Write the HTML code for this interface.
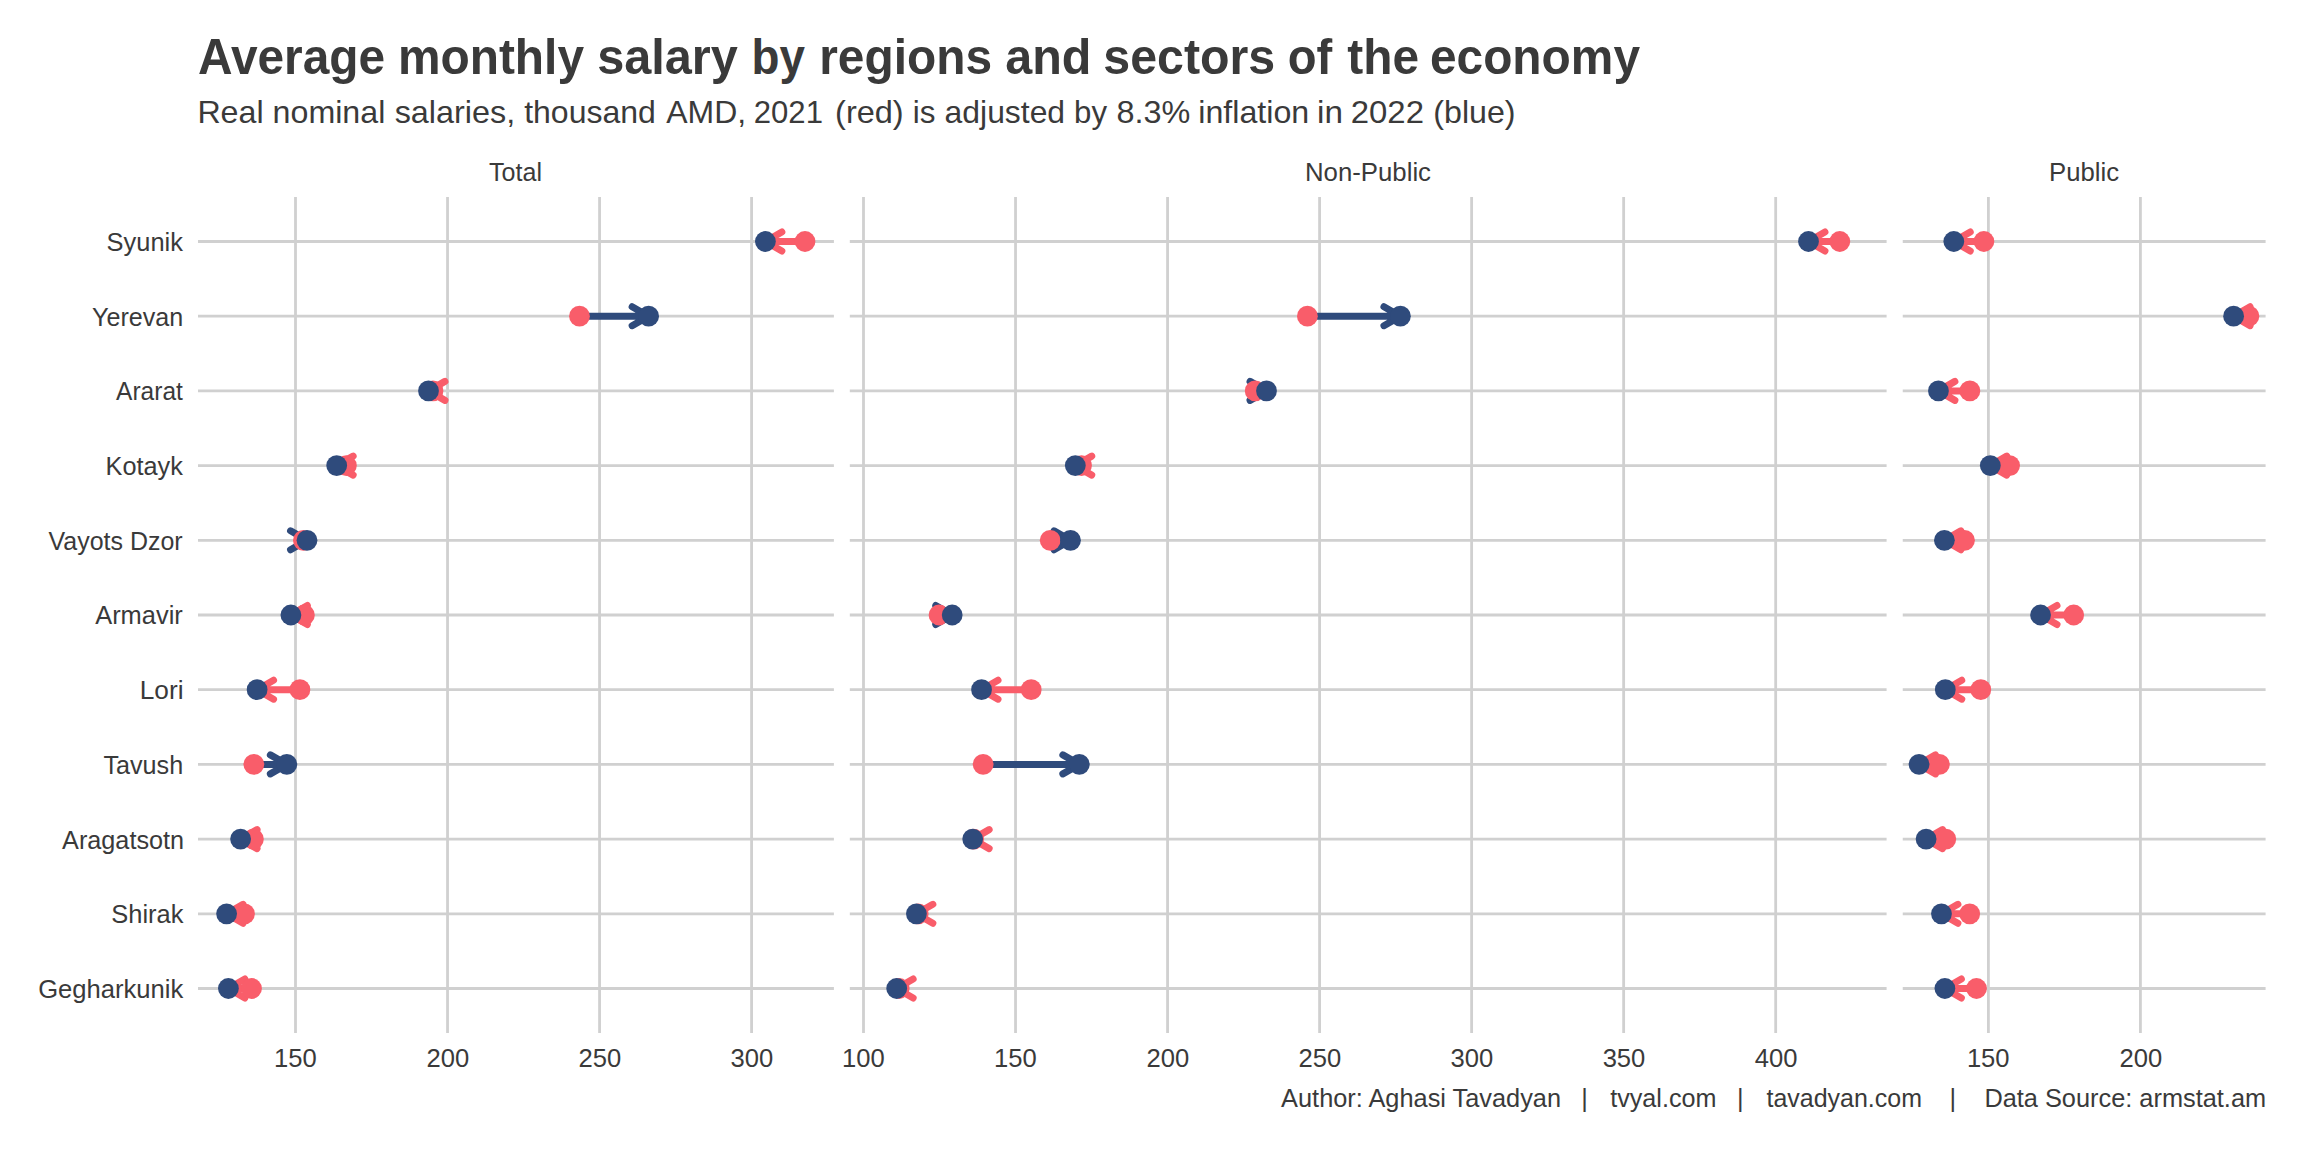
<!DOCTYPE html>
<html><head><meta charset="utf-8"><title>Average monthly salary by regions and sectors of the economy</title>
<style>html,body{margin:0;padding:0;background:#fff;width:2304px;height:1152px;overflow:hidden}body{position:relative;font-family:"Liberation Sans",sans-serif}</style>
</head><body>
<svg width="2304" height="1152" viewBox="0 0 2304 1152" style="position:absolute;left:0;top:0">
<rect width="2304" height="1152" fill="#ffffff"/>
<path d="M198.00 241.50H833.90M198.00 316.20H833.90M198.00 390.90H833.90M198.00 465.60H833.90M198.00 540.30H833.90M198.00 615.00H833.90M198.00 689.70H833.90M198.00 764.40H833.90M198.00 839.10H833.90M198.00 913.80H833.90M198.00 988.50H833.90M295.50 197.00V1033.00M447.53 197.00V1033.00M599.56 197.00V1033.00M751.59 197.00V1033.00M849.80 241.50H1886.60M849.80 316.20H1886.60M849.80 390.90H1886.60M849.80 465.60H1886.60M849.80 540.30H1886.60M849.80 615.00H1886.60M849.80 689.70H1886.60M849.80 764.40H1886.60M849.80 839.10H1886.60M849.80 913.80H1886.60M849.80 988.50H1886.60M863.50 197.00V1033.00M1015.53 197.00V1033.00M1167.56 197.00V1033.00M1319.59 197.00V1033.00M1471.62 197.00V1033.00M1623.65 197.00V1033.00M1775.68 197.00V1033.00M1902.75 241.50H2265.60M1902.75 316.20H2265.60M1902.75 390.90H2265.60M1902.75 465.60H2265.60M1902.75 540.30H2265.60M1902.75 615.00H2265.60M1902.75 689.70H2265.60M1902.75 764.40H2265.60M1902.75 839.10H2265.60M1902.75 913.80H2265.60M1902.75 988.50H2265.60M1988.40 197.00V1033.00M2140.43 197.00V1033.00" stroke="#d0d0d0" stroke-width="2.8" fill="none"/>
<path d="M805.00 241.50H765.40M781.85 232.00L765.40 241.50L781.85 251.00" stroke="#f95d6a" stroke-width="7.0" stroke-linecap="round" stroke-linejoin="round" fill="none"/>
<path d="M579.50 316.20H648.60M632.15 306.70L648.60 316.20L632.15 325.70" stroke="#2f4b7c" stroke-width="7.0" stroke-linecap="round" stroke-linejoin="round" fill="none"/>
<path d="M433.00 390.90H428.50M444.95 381.40L428.50 390.90L444.95 400.40" stroke="#f95d6a" stroke-width="7.0" stroke-linecap="round" stroke-linejoin="round" fill="none"/>
<path d="M346.40 465.60H336.70M353.15 456.10L336.70 465.60L353.15 475.10" stroke="#f95d6a" stroke-width="7.0" stroke-linecap="round" stroke-linejoin="round" fill="none"/>
<path d="M303.40 540.30H307.00M290.55 530.80L307.00 540.30L290.55 549.80" stroke="#2f4b7c" stroke-width="7.0" stroke-linecap="round" stroke-linejoin="round" fill="none"/>
<path d="M304.40 615.00H290.90M307.35 605.50L290.90 615.00L307.35 624.50" stroke="#f95d6a" stroke-width="7.0" stroke-linecap="round" stroke-linejoin="round" fill="none"/>
<path d="M299.90 689.70H257.10M273.55 680.20L257.10 689.70L273.55 699.20" stroke="#f95d6a" stroke-width="7.0" stroke-linecap="round" stroke-linejoin="round" fill="none"/>
<path d="M253.85 764.40H286.80M270.35 754.90L286.80 764.40L270.35 773.90" stroke="#2f4b7c" stroke-width="7.0" stroke-linecap="round" stroke-linejoin="round" fill="none"/>
<path d="M253.40 839.10H240.60M257.05 829.60L240.60 839.10L257.05 848.60" stroke="#f95d6a" stroke-width="7.0" stroke-linecap="round" stroke-linejoin="round" fill="none"/>
<path d="M244.50 913.80H226.60M243.05 904.30L226.60 913.80L243.05 923.30" stroke="#f95d6a" stroke-width="7.0" stroke-linecap="round" stroke-linejoin="round" fill="none"/>
<path d="M251.50 988.50H228.40M244.85 979.00L228.40 988.50L244.85 998.00" stroke="#f95d6a" stroke-width="7.0" stroke-linecap="round" stroke-linejoin="round" fill="none"/>
<path d="M1839.80 241.50H1808.50M1824.95 232.00L1808.50 241.50L1824.95 251.00" stroke="#f95d6a" stroke-width="7.0" stroke-linecap="round" stroke-linejoin="round" fill="none"/>
<path d="M1307.40 316.20H1400.40M1383.95 306.70L1400.40 316.20L1383.95 325.70" stroke="#2f4b7c" stroke-width="7.0" stroke-linecap="round" stroke-linejoin="round" fill="none"/>
<path d="M1255.20 390.90H1266.50M1250.05 381.40L1266.50 390.90L1250.05 400.40" stroke="#2f4b7c" stroke-width="7.0" stroke-linecap="round" stroke-linejoin="round" fill="none"/>
<path d="M1081.50 465.60H1075.30M1091.75 456.10L1075.30 465.60L1091.75 475.10" stroke="#f95d6a" stroke-width="7.0" stroke-linecap="round" stroke-linejoin="round" fill="none"/>
<path d="M1050.20 540.30H1070.50M1054.05 530.80L1070.50 540.30L1054.05 549.80" stroke="#2f4b7c" stroke-width="7.0" stroke-linecap="round" stroke-linejoin="round" fill="none"/>
<path d="M939.05 615.00H952.20M935.75 605.50L952.20 615.00L935.75 624.50" stroke="#2f4b7c" stroke-width="7.0" stroke-linecap="round" stroke-linejoin="round" fill="none"/>
<path d="M1031.20 689.70H981.55M998.00 680.20L981.55 689.70L998.00 699.20" stroke="#f95d6a" stroke-width="7.0" stroke-linecap="round" stroke-linejoin="round" fill="none"/>
<path d="M983.15 764.40H1079.30M1062.85 754.90L1079.30 764.40L1062.85 773.90" stroke="#2f4b7c" stroke-width="7.0" stroke-linecap="round" stroke-linejoin="round" fill="none"/>
<path d="M973.70 839.10H972.70M989.15 829.60L972.70 839.10L989.15 848.60" stroke="#f95d6a" stroke-width="7.0" stroke-linecap="round" stroke-linejoin="round" fill="none"/>
<path d="M918.20 913.80H916.40M932.85 904.30L916.40 913.80L932.85 923.30" stroke="#f95d6a" stroke-width="7.0" stroke-linecap="round" stroke-linejoin="round" fill="none"/>
<path d="M899.20 988.50H896.70M913.15 979.00L896.70 988.50L913.15 998.00" stroke="#f95d6a" stroke-width="7.0" stroke-linecap="round" stroke-linejoin="round" fill="none"/>
<path d="M1983.90 241.50H1953.80M1970.25 232.00L1953.80 241.50L1970.25 251.00" stroke="#f95d6a" stroke-width="7.0" stroke-linecap="round" stroke-linejoin="round" fill="none"/>
<path d="M2248.90 316.20H2233.60M2250.05 306.70L2233.60 316.20L2250.05 325.70" stroke="#f95d6a" stroke-width="7.0" stroke-linecap="round" stroke-linejoin="round" fill="none"/>
<path d="M1969.85 390.90H1938.45M1954.90 381.40L1938.45 390.90L1954.90 400.40" stroke="#f95d6a" stroke-width="7.0" stroke-linecap="round" stroke-linejoin="round" fill="none"/>
<path d="M2009.60 465.60H1990.30M2006.75 456.10L1990.30 465.60L2006.75 475.10" stroke="#f95d6a" stroke-width="7.0" stroke-linecap="round" stroke-linejoin="round" fill="none"/>
<path d="M1964.50 540.30H1944.40M1960.85 530.80L1944.40 540.30L1960.85 549.80" stroke="#f95d6a" stroke-width="7.0" stroke-linecap="round" stroke-linejoin="round" fill="none"/>
<path d="M2073.70 615.00H2040.55M2057.00 605.50L2040.55 615.00L2057.00 624.50" stroke="#f95d6a" stroke-width="7.0" stroke-linecap="round" stroke-linejoin="round" fill="none"/>
<path d="M1980.80 689.70H1945.30M1961.75 680.20L1945.30 689.70L1961.75 699.20" stroke="#f95d6a" stroke-width="7.0" stroke-linecap="round" stroke-linejoin="round" fill="none"/>
<path d="M1939.40 764.40H1919.05M1935.50 754.90L1919.05 764.40L1935.50 773.90" stroke="#f95d6a" stroke-width="7.0" stroke-linecap="round" stroke-linejoin="round" fill="none"/>
<path d="M1945.80 839.10H1926.10M1942.55 829.60L1926.10 839.10L1942.55 848.60" stroke="#f95d6a" stroke-width="7.0" stroke-linecap="round" stroke-linejoin="round" fill="none"/>
<path d="M1969.70 913.80H1941.45M1957.90 904.30L1941.45 913.80L1957.90 923.30" stroke="#f95d6a" stroke-width="7.0" stroke-linecap="round" stroke-linejoin="round" fill="none"/>
<path d="M1976.50 988.50H1944.90M1961.35 979.00L1944.90 988.50L1961.35 998.00" stroke="#f95d6a" stroke-width="7.0" stroke-linecap="round" stroke-linejoin="round" fill="none"/>
<circle cx="805.00" cy="241.50" r="10.4" fill="#f95d6a"/>
<circle cx="579.50" cy="316.20" r="10.4" fill="#f95d6a"/>
<circle cx="433.00" cy="390.90" r="10.4" fill="#f95d6a"/>
<circle cx="346.40" cy="465.60" r="10.4" fill="#f95d6a"/>
<circle cx="303.40" cy="540.30" r="10.4" fill="#f95d6a"/>
<circle cx="304.40" cy="615.00" r="10.4" fill="#f95d6a"/>
<circle cx="299.90" cy="689.70" r="10.4" fill="#f95d6a"/>
<circle cx="253.85" cy="764.40" r="10.4" fill="#f95d6a"/>
<circle cx="253.40" cy="839.10" r="10.4" fill="#f95d6a"/>
<circle cx="244.50" cy="913.80" r="10.4" fill="#f95d6a"/>
<circle cx="251.50" cy="988.50" r="10.4" fill="#f95d6a"/>
<circle cx="1839.80" cy="241.50" r="10.4" fill="#f95d6a"/>
<circle cx="1307.40" cy="316.20" r="10.4" fill="#f95d6a"/>
<circle cx="1255.20" cy="390.90" r="10.4" fill="#f95d6a"/>
<circle cx="1081.50" cy="465.60" r="10.4" fill="#f95d6a"/>
<circle cx="1050.20" cy="540.30" r="10.4" fill="#f95d6a"/>
<circle cx="939.05" cy="615.00" r="10.4" fill="#f95d6a"/>
<circle cx="1031.20" cy="689.70" r="10.4" fill="#f95d6a"/>
<circle cx="983.15" cy="764.40" r="10.4" fill="#f95d6a"/>
<circle cx="973.70" cy="839.10" r="10.4" fill="#f95d6a"/>
<circle cx="918.20" cy="913.80" r="10.4" fill="#f95d6a"/>
<circle cx="899.20" cy="988.50" r="10.4" fill="#f95d6a"/>
<circle cx="1983.90" cy="241.50" r="10.4" fill="#f95d6a"/>
<circle cx="2248.90" cy="316.20" r="10.4" fill="#f95d6a"/>
<circle cx="1969.85" cy="390.90" r="10.4" fill="#f95d6a"/>
<circle cx="2009.60" cy="465.60" r="10.4" fill="#f95d6a"/>
<circle cx="1964.50" cy="540.30" r="10.4" fill="#f95d6a"/>
<circle cx="2073.70" cy="615.00" r="10.4" fill="#f95d6a"/>
<circle cx="1980.80" cy="689.70" r="10.4" fill="#f95d6a"/>
<circle cx="1939.40" cy="764.40" r="10.4" fill="#f95d6a"/>
<circle cx="1945.80" cy="839.10" r="10.4" fill="#f95d6a"/>
<circle cx="1969.70" cy="913.80" r="10.4" fill="#f95d6a"/>
<circle cx="1976.50" cy="988.50" r="10.4" fill="#f95d6a"/>
<circle cx="765.40" cy="241.50" r="10.4" fill="#2f4b7c"/>
<circle cx="648.60" cy="316.20" r="10.4" fill="#2f4b7c"/>
<circle cx="428.50" cy="390.90" r="10.4" fill="#2f4b7c"/>
<circle cx="336.70" cy="465.60" r="10.4" fill="#2f4b7c"/>
<circle cx="307.00" cy="540.30" r="10.4" fill="#2f4b7c"/>
<circle cx="290.90" cy="615.00" r="10.4" fill="#2f4b7c"/>
<circle cx="257.10" cy="689.70" r="10.4" fill="#2f4b7c"/>
<circle cx="286.80" cy="764.40" r="10.4" fill="#2f4b7c"/>
<circle cx="240.60" cy="839.10" r="10.4" fill="#2f4b7c"/>
<circle cx="226.60" cy="913.80" r="10.4" fill="#2f4b7c"/>
<circle cx="228.40" cy="988.50" r="10.4" fill="#2f4b7c"/>
<circle cx="1808.50" cy="241.50" r="10.4" fill="#2f4b7c"/>
<circle cx="1400.40" cy="316.20" r="10.4" fill="#2f4b7c"/>
<circle cx="1266.50" cy="390.90" r="10.4" fill="#2f4b7c"/>
<circle cx="1075.30" cy="465.60" r="10.4" fill="#2f4b7c"/>
<circle cx="1070.50" cy="540.30" r="10.4" fill="#2f4b7c"/>
<circle cx="952.20" cy="615.00" r="10.4" fill="#2f4b7c"/>
<circle cx="981.55" cy="689.70" r="10.4" fill="#2f4b7c"/>
<circle cx="1079.30" cy="764.40" r="10.4" fill="#2f4b7c"/>
<circle cx="972.70" cy="839.10" r="10.4" fill="#2f4b7c"/>
<circle cx="916.40" cy="913.80" r="10.4" fill="#2f4b7c"/>
<circle cx="896.70" cy="988.50" r="10.4" fill="#2f4b7c"/>
<circle cx="1953.80" cy="241.50" r="10.4" fill="#2f4b7c"/>
<circle cx="2233.60" cy="316.20" r="10.4" fill="#2f4b7c"/>
<circle cx="1938.45" cy="390.90" r="10.4" fill="#2f4b7c"/>
<circle cx="1990.30" cy="465.60" r="10.4" fill="#2f4b7c"/>
<circle cx="1944.40" cy="540.30" r="10.4" fill="#2f4b7c"/>
<circle cx="2040.55" cy="615.00" r="10.4" fill="#2f4b7c"/>
<circle cx="1945.30" cy="689.70" r="10.4" fill="#2f4b7c"/>
<circle cx="1919.05" cy="764.40" r="10.4" fill="#2f4b7c"/>
<circle cx="1926.10" cy="839.10" r="10.4" fill="#2f4b7c"/>
<circle cx="1941.45" cy="913.80" r="10.4" fill="#2f4b7c"/>
<circle cx="1944.90" cy="988.50" r="10.4" fill="#2f4b7c"/>
<g font-family="Liberation Sans, sans-serif" fill="#3a3a3a">
<text x="198.10" y="73.60" font-size="47.88" font-weight="bold" transform="matrix(1 0 0 1.045 0 -3.312)">Average</text>
<text x="397.91" y="73.60" font-size="47.88" font-weight="bold" transform="matrix(1 0 0 1.045 0 -3.312)">monthly</text>
<text x="597.17" y="73.60" font-size="47.88" font-weight="bold" textLength="140.68" lengthAdjust="spacingAndGlyphs" transform="matrix(1 0 0 1.045 0 -3.312)">salary</text>
<text x="751.53" y="73.60" font-size="47.88" font-weight="bold" textLength="53.45" lengthAdjust="spacingAndGlyphs" transform="matrix(1 0 0 1.045 0 -3.312)">by</text>
<text x="819.20" y="73.60" font-size="47.88" font-weight="bold" transform="matrix(1 0 0 1.045 0 -3.312)">regions</text>
<text x="1005.29" y="73.60" font-size="47.88" font-weight="bold" textLength="86.18" lengthAdjust="spacingAndGlyphs" transform="matrix(1 0 0 1.045 0 -3.312)">and</text>
<text x="1103.28" y="73.60" font-size="47.88" font-weight="bold" textLength="171.96" lengthAdjust="spacingAndGlyphs" transform="matrix(1 0 0 1.045 0 -3.312)">sectors</text>
<text x="1287.73" y="73.60" font-size="47.88" font-weight="bold" textLength="44.57" lengthAdjust="spacingAndGlyphs" transform="matrix(1 0 0 1.045 0 -3.312)">of</text>
<text x="1347.20" y="73.60" font-size="47.88" font-weight="bold" transform="matrix(1 0 0 1.045 0 -3.312)">the</text>
<text x="1429.90" y="73.60" font-size="47.88" font-weight="bold" transform="matrix(1 0 0 1.045 0 -3.312)">economy</text>
<text x="197.39" y="123.20" font-size="32.2">Real</text>
<text x="272.60" y="123.20" font-size="32.2">nominal</text>
<text x="394.69" y="123.20" font-size="32.2" textLength="120.48" lengthAdjust="spacingAndGlyphs">salaries,</text>
<text x="524.20" y="123.20" font-size="32.2" textLength="131.64" lengthAdjust="spacingAndGlyphs">thousand</text>
<text x="666.30" y="123.20" font-size="32.2" textLength="79.90" lengthAdjust="spacingAndGlyphs">AMD,</text>
<text x="753.77" y="123.20" font-size="32.2" textLength="69.19" lengthAdjust="spacingAndGlyphs">2021</text>
<text x="835.08" y="123.20" font-size="32.2" textLength="68.61" lengthAdjust="spacingAndGlyphs">(red)</text>
<text x="912.85" y="123.20" font-size="32.2" textLength="22.67" lengthAdjust="spacingAndGlyphs">is</text>
<text x="944.61" y="123.20" font-size="32.2" textLength="120.48" lengthAdjust="spacingAndGlyphs">adjusted</text>
<text x="1074.06" y="123.20" font-size="32.2" textLength="32.94" lengthAdjust="spacingAndGlyphs">by</text>
<text x="1116.59" y="123.20" font-size="32.2" textLength="73.79" lengthAdjust="spacingAndGlyphs">8.3%</text>
<text x="1198.30" y="123.20" font-size="32.2">inflation</text>
<text x="1317.13" y="123.20" font-size="32.2" textLength="25.90" lengthAdjust="spacingAndGlyphs">in</text>
<text x="1350.76" y="123.20" font-size="32.2" textLength="73.19" lengthAdjust="spacingAndGlyphs">2022</text>
<text x="1433.30" y="123.20" font-size="32.2">(blue)</text>
<text x="489.10" y="180.90" font-size="25.6" textLength="52.94" lengthAdjust="spacingAndGlyphs">Total</text>
<text x="1304.99" y="180.90" font-size="25.6" textLength="126.00" lengthAdjust="spacingAndGlyphs">Non-Public</text>
<text x="2048.99" y="180.90" font-size="25.6" textLength="70.03" lengthAdjust="spacingAndGlyphs">Public</text>
<text x="106.61" y="250.90" font-size="25.6" textLength="76.32" lengthAdjust="spacingAndGlyphs">Syunik</text>
<text x="92.02" y="325.60" font-size="25.6" textLength="91.25" lengthAdjust="spacingAndGlyphs">Yerevan</text>
<text x="116.10" y="400.30" font-size="25.6" textLength="66.72" lengthAdjust="spacingAndGlyphs">Ararat</text>
<text x="105.52" y="475.00" font-size="25.6" textLength="77.32" lengthAdjust="spacingAndGlyphs">Kotayk</text>
<text x="48.50" y="549.70" font-size="25.6" textLength="134.09" lengthAdjust="spacingAndGlyphs">Vayots Dzor</text>
<text x="95.20" y="624.40" font-size="25.6" textLength="87.56" lengthAdjust="spacingAndGlyphs">Armavir</text>
<text x="139.75" y="699.10" font-size="25.6" textLength="43.78" lengthAdjust="spacingAndGlyphs">Lori</text>
<text x="103.40" y="773.80" font-size="25.6" textLength="79.78" lengthAdjust="spacingAndGlyphs">Tavush</text>
<text x="62.10" y="848.50" font-size="25.6" textLength="121.97" lengthAdjust="spacingAndGlyphs">Aragatsotn</text>
<text x="111.31" y="923.20" font-size="25.6" textLength="72.14" lengthAdjust="spacingAndGlyphs">Shirak</text>
<text x="38.20" y="997.90" font-size="25.6">Gegharkunik</text>
<text x="274.00" y="1066.70" font-size="25.6">150</text>
<text x="426.53" y="1066.70" font-size="25.6">200</text>
<text x="578.56" y="1066.70" font-size="25.6">250</text>
<text x="730.59" y="1066.70" font-size="25.6">300</text>
<text x="842.00" y="1066.70" font-size="25.6">100</text>
<text x="994.03" y="1066.70" font-size="25.6">150</text>
<text x="1146.56" y="1066.70" font-size="25.6">200</text>
<text x="1298.59" y="1066.70" font-size="25.6">250</text>
<text x="1450.62" y="1066.70" font-size="25.6">300</text>
<text x="1602.65" y="1066.70" font-size="25.6">350</text>
<text x="1754.68" y="1066.70" font-size="25.6">400</text>
<text x="1966.90" y="1066.70" font-size="25.6">150</text>
<text x="2119.43" y="1066.70" font-size="25.6">200</text>
<text x="1281.10" y="1107.20" font-size="25.35">Author: Aghasi Tavadyan</text>
<text x="1610.20" y="1107.20" font-size="25.35" textLength="106.32" lengthAdjust="spacingAndGlyphs">tvyal.com</text>
<text x="1766.50" y="1107.20" font-size="25.35" textLength="155.45" lengthAdjust="spacingAndGlyphs">tavadyan.com</text>
<text x="1984.40" y="1107.20" font-size="25.35">Data Source: armstat.am</text>
<text x="1581.20" y="1107.20" font-size="25.35">|</text>
<text x="1737.10" y="1107.20" font-size="25.35">|</text>
<text x="1949.50" y="1107.20" font-size="25.35">|</text>
</g>
</svg>
</body></html>
